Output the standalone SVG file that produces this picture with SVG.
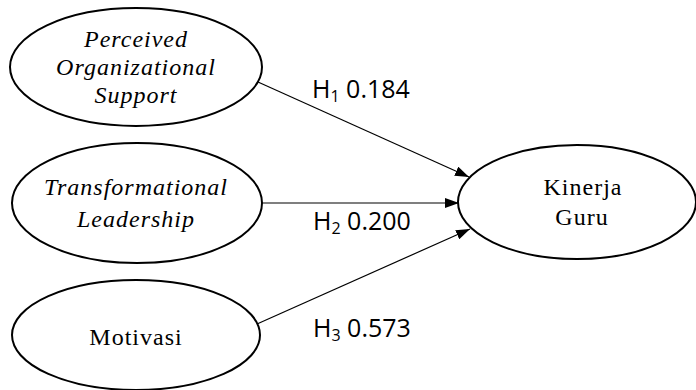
<svg xmlns="http://www.w3.org/2000/svg" width="696" height="390" viewBox="0 0 696 390">
<style>
.node ellipse{fill:#fff;stroke:#000;stroke-width:2}
.t{font-family:"Liberation Serif","Times New Roman",serif;font-size:24px;letter-spacing:1px;text-anchor:middle;fill:#000}
.i{font-style:italic}
.lbl{font-family:"Open Sans","Noto Sans",sans-serif;font-size:25px;fill:#000}
.sub{font-size:16px}
.conn line{stroke:#000;stroke-width:1.2;fill:none}
</style>
<defs>
<marker id="ah" viewBox="0 0 14 10" refX="14" refY="5" markerWidth="14" markerHeight="10" markerUnits="userSpaceOnUse" orient="auto">
<path d="M0,0 L14,5 L0,10 Z" fill="#000"/>
</marker>
</defs>
<g class="conn">
<line x1="258" y1="82" x2="469" y2="177" marker-end="url(#ah)"/>
<line x1="262" y1="203" x2="459" y2="203" marker-end="url(#ah)"/>
<line x1="257" y1="324" x2="470" y2="229" marker-end="url(#ah)"/>
</g>
<g id="pos" class="node">
<ellipse cx="136" cy="67" rx="126" ry="59"/>
<text class="t i" x="136" y="47">Perceived</text>
<text class="t i" x="136" y="75">Organizational</text>
<text class="t i" x="136" y="103">Support</text>
</g>
<g id="tl" class="node">
<ellipse cx="137" cy="203" rx="125" ry="60"/>
<text class="t i" x="136" y="195">Transformational</text>
<text class="t i" x="136" y="227">Leadership</text>
</g>
<g id="mot" class="node">
<ellipse cx="136" cy="335" rx="124" ry="55"/>
<text class="t" x="136" y="345">Motivasi</text>
</g>
<g id="kg" class="node">
<ellipse cx="577" cy="202" rx="119" ry="57"/>
<text class="t" x="583" y="195">Kinerja</text>
<text class="t" x="582" y="225">Guru</text>
</g>
<g id="labels">
<text class="lbl" x="312" y="98">H<tspan class="sub" dy="4">1</tspan><tspan dy="-4"> 0.184</tspan></text>
<text class="lbl" x="313" y="230">H<tspan class="sub" dy="4">2</tspan><tspan dy="-4"> 0.200</tspan></text>
<text class="lbl" x="313" y="337">H<tspan class="sub" dy="4">3</tspan><tspan dy="-4"> 0.573</tspan></text>
</g>
</svg>
